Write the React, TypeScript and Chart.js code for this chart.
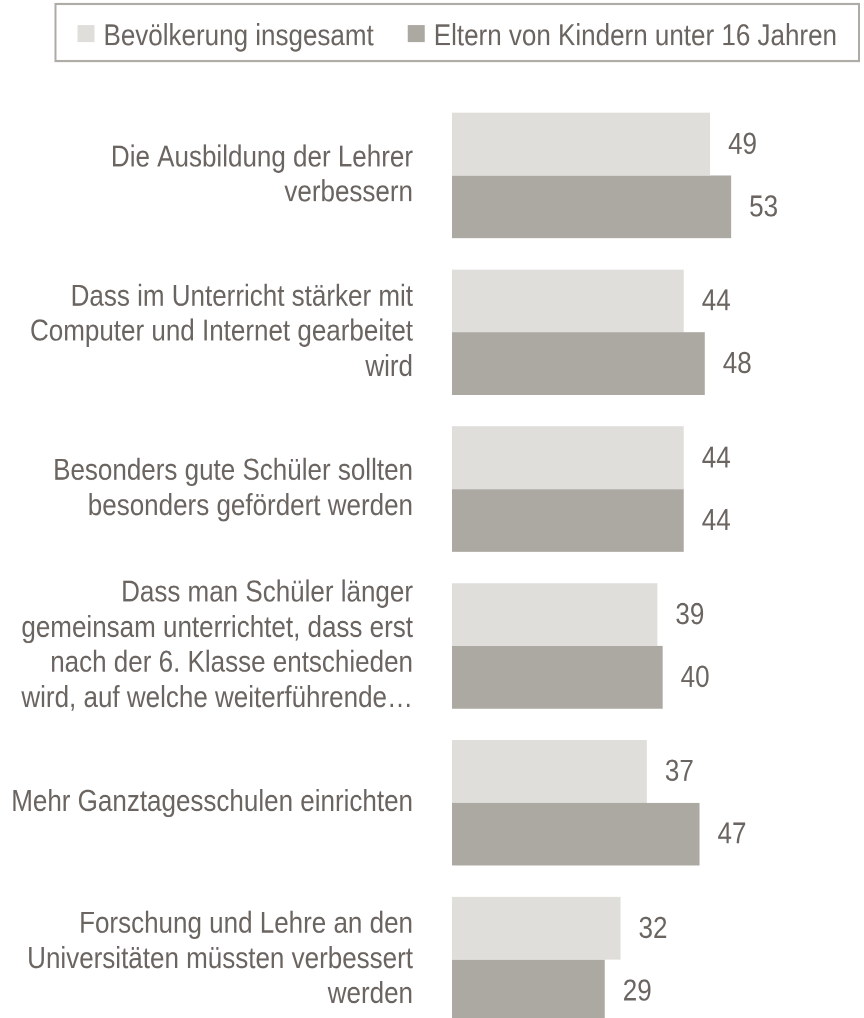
import React, { useEffect, useRef } from "react";
import { Chart, registerables } from "chart.js";

Chart.register(...registerables);

const categories: string[][] = [
  ["Die Ausbildung der Lehrer", "verbessern"],
  ["Dass im Unterricht stärker mit", "Computer und Internet gearbeitet", "wird"],
  ["Besonders gute Schüler sollten", "besonders gefördert werden"],
  ["Dass man Schüler länger", "gemeinsam unterrichtet, dass erst", "nach der 6. Klasse entschieden", "wird, auf welche weiterführende…"],
  ["Mehr Ganztagesschulen einrichten"],
  ["Forschung und Lehre an den", "Universitäten müssten verbessert", "werden"],
];
const seriesNames = ["Bevölkerung insgesamt", "Eltern von Kindern unter 16 Jahren"];
const totalValues = [49, 44, 44, 39, 37, 32];
const parentValues = [53, 48, 44, 40, 47, 29];
const seriesColors = ["#dfdedb", "#aca9a2"];

const FONT = '"Liberation Sans", Arial, sans-serif';
const FONT_SIZE = 26;
const TEXT = "#6b6562";
// the reference text is taller than it is wide: draw the canvas with a vertical stretch
const STRETCH = 1.16;
const LOGICAL_H = 900;

export default function App() {
  const ref = useRef<HTMLCanvasElement>(null);

  useEffect(() => {
    const s = STRETCH;
    const legendPlugin = {
      id: "boxLegend",
      afterDraw(chart: any) {
        const ctx = chart.ctx as CanvasRenderingContext2D;
        ctx.save();
        ctx.font = `${FONT_SIZE}px ${FONT}`;
        const textEnd = 837;
        const w2 = ctx.measureText(seriesNames[1]).width;
        const t2x = textEnd - w2;
        const sq2x = t2x - 26;
        const t1end = sq2x - 34;
        const w1 = ctx.measureText(seriesNames[0]).width;
        const t1x = t1end - w1;
        const sq1x = t1x - 26;
        const boxLeft = sq1x - 22;
        ctx.strokeStyle = "#aeaba6";
        ctx.lineWidth = 2;
        ctx.strokeRect(boxLeft, 4 / s, 859 - boxLeft, 57 / s);
        ctx.fillStyle = seriesColors[0];
        ctx.fillRect(sq1x, 25 / s, 17, 17 / s);
        ctx.fillStyle = seriesColors[1];
        ctx.fillRect(sq2x, 25 / s, 17, 17 / s);
        ctx.fillStyle = TEXT;
        ctx.textBaseline = "alphabetic";
        ctx.textAlign = "left";
        ctx.fillText(seriesNames[0], t1x, 45 / s);
        ctx.fillText(seriesNames[1], t2x, 45 / s);
        ctx.restore();
      },
    };

    const valuePlugin = {
      id: "valueLabels",
      afterDatasetsDraw(chart: any) {
        const ctx = chart.ctx as CanvasRenderingContext2D;
        ctx.save();
        ctx.font = `${FONT_SIZE}px ${FONT}`;
        ctx.fillStyle = TEXT;
        ctx.textAlign = "left";
        ctx.textBaseline = "middle";
        chart.data.datasets.forEach((ds: any, i: number) => {
          const meta = chart.getDatasetMeta(i);
          meta.data.forEach((bar: any, j: number) => {
            ctx.fillText(String(ds.data[j]), bar.x + 18, bar.y + 1);
          });
        });
        ctx.restore();
      },
    };

    const chart = new Chart(ref.current as HTMLCanvasElement, {
      type: "bar",
      data: {
        labels: categories as any,
        datasets: [
          {
            label: seriesNames[0],
            data: totalValues,
            backgroundColor: seriesColors[0],
            borderWidth: 0,
            barPercentage: 1,
            categoryPercentage: 0.8,
          },
          {
            label: seriesNames[1],
            data: parentValues,
            backgroundColor: seriesColors[1],
            borderWidth: 0,
            barPercentage: 1,
            categoryPercentage: 0.8,
          },
        ],
      },
      options: {
        indexAxis: "y",
        responsive: false,
        animation: false,
        devicePixelRatio: 2,
        layout: {
          padding: { top: 97 / s, right: 96, left: 0, bottom: LOGICAL_H - 1038 / s },
        },
        plugins: {
          legend: { display: false },
          tooltip: { enabled: false },
        },
        scales: {
          x: { min: 0, max: 60, display: false },
          y: {
            grid: { display: false, drawTicks: false },
            border: { display: false },
            ticks: {
              color: TEXT,
              font: { family: FONT, size: FONT_SIZE, lineHeight: 35 / s / FONT_SIZE },
              padding: 39,
              autoSkip: false,
            },
            afterFit(scale: any) {
              scale.width = 452;
              scale.paddingTop = 0;
              scale.paddingBottom = 0;
            },
          },
        },
      },
      plugins: [legendPlugin, valuePlugin],
    });
    return () => chart.destroy();
  }, []);

  return (
    <div
      style={{
        position: "fixed",
        left: 0,
        top: 0,
        width: 864,
        height: 1018,
        overflow: "hidden",
        background: "#ffffff",
      }}
    >
      <canvas
        ref={ref}
        width={864}
        height={LOGICAL_H}
        style={{ display: "block", width: "864px", height: `${LOGICAL_H * STRETCH}px` }}
      />
    </div>
  );
}
